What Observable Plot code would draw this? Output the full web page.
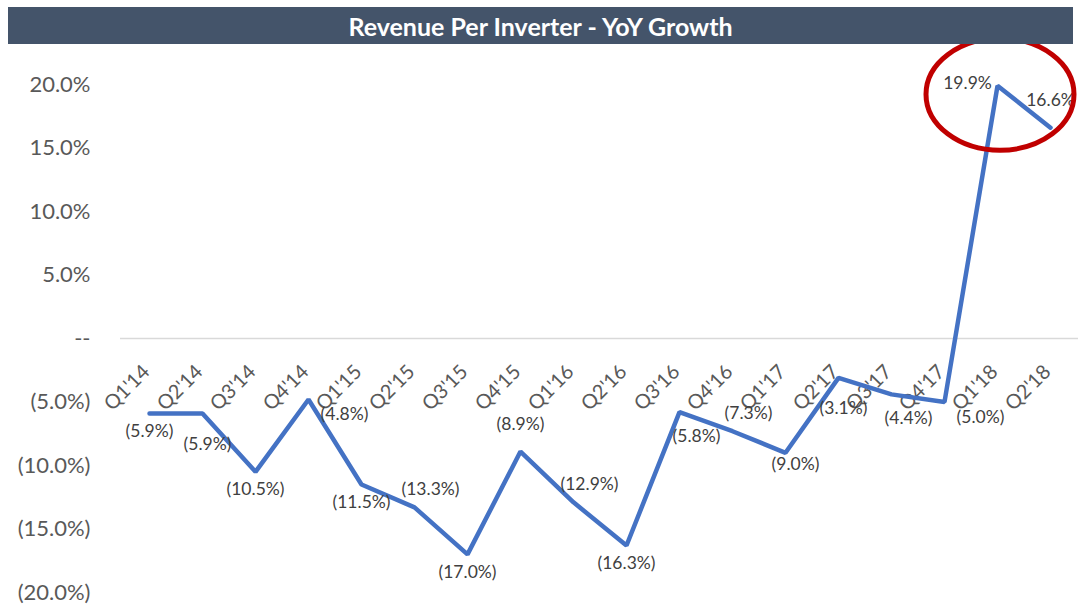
<!DOCTYPE html>
<html><head><meta charset="utf-8">
<script src="https://cdn.jsdelivr.net/npm/d3@7"></script>
<script src="https://cdn.jsdelivr.net/npm/@observablehq/plot@0.6"></script>
<style>
body{margin:0;background:#fff;font-family:Lato,"Open Sans",sans-serif;}
#title{position:absolute;left:8px;top:7px;width:1065px;height:37px;background:#44546a;color:#fff;font-weight:bold;font-size:25px;line-height:38px;text-align:center;}
#chart{position:absolute;left:0;top:44px;}
</style></head><body>
<div id="title">Revenue Per Inverter - YoY Growth</div>
<div id="chart"></div>
<script>
const quarters = ["Q1'14","Q2'14","Q3'14","Q4'14","Q1'15","Q2'15","Q3'15","Q4'15","Q1'16","Q2'16","Q3'16","Q4'16","Q1'17","Q2'17","Q3'17","Q4'17","Q1'18","Q2'18"];
const growth = [-5.9,-5.9,-10.5,-4.8,-11.5,-13.3,-17.0,-8.9,-12.9,-16.3,-5.8,-7.3,-9.0,-3.1,-4.4,-5.0,19.9,16.6];
const labelPlacement = ["below","belowFar","below","right","below","aboveRight","below","above","aboveRight","below","belowRight","aboveRight","belowNear","belowFar","belowRight","right","left","above"];
const yTicks = [-20,-15,-10,-5,0,5,10,15,20];

const placements = {
  below:{dx:0,dy:18}, belowFar:{dx:5,dy:31}, belowRight:{dx:17,dy:24}, belowNear:{dx:10,dy:12},
  right:{dx:36,dy:15}, aboveRight:{dx:16,dy:-18}, above:{dx:0,dy:-27}, left:{dx:-30,dy:-2}
};
const fmt = v => v === 0 ? "--" : v < 0 ? `(${(-v).toFixed(1)}%)` : `${v.toFixed(1)}%`;
const data = quarters.map((q,i)=>({q, v:growth[i], p:labelPlacement[i]}));

const labelMarks = Object.entries(placements).map(([k,o]) =>
  Plot.text(data.filter(d=>d.p===k), {x:"q", y:"v", text:d=>fmt(d.v), dx:o.dx, dy:o.dy, fill:"#404040", fontSize:17.5})
);

const chart = Plot.plot({
  width:1078, height:561,
  marginLeft:120, marginRight:0, marginTop:40, marginBottom:13,
  style:{fontFamily:"Lato, 'Open Sans', sans-serif", color:"#595959", background:"transparent"},
  x:{type:"point", domain:quarters, padding:0.5, axis:null},
  y:{domain:[-20,20], axis:null},
  marks:[
    Plot.ruleY([0], {stroke:"#d9d9d9", strokeWidth:1.5}),
    Plot.axisY({ticks:yTicks, tickFormat:fmt, tickSize:0, tickPadding:30, fontSize:22, fill:"#595959", label:null}),
    Plot.text(quarters, {x:d=>d, y:()=>0, text:d=>d, rotate:-45, textAnchor:"end", dx:-3, dy:30, fontSize:20, fill:"#595959"}),
    Plot.line(data, {x:"q", y:"v", stroke:"#4472c4", strokeWidth:4.5, strokeLinejoin:"miter"}),
    ...labelMarks
  ]
});
document.getElementById("chart").appendChild(chart);

// Red ellipse annotation highlighting the latest quarters, positioned through the plot's scales
const xs = chart.scale("x"), ys = chart.scale("y");
const cx = xs.apply("Q1'18") + 3, cy = ys.apply(d3.max(growth)) + 9;
d3.select(chart).append("ellipse")
  .attr("cx", cx).attr("cy", cy).attr("rx", 74).attr("ry", 56)
  .attr("fill","none").attr("stroke","#c00000").attr("stroke-width",5);
</script>
</body></html>
